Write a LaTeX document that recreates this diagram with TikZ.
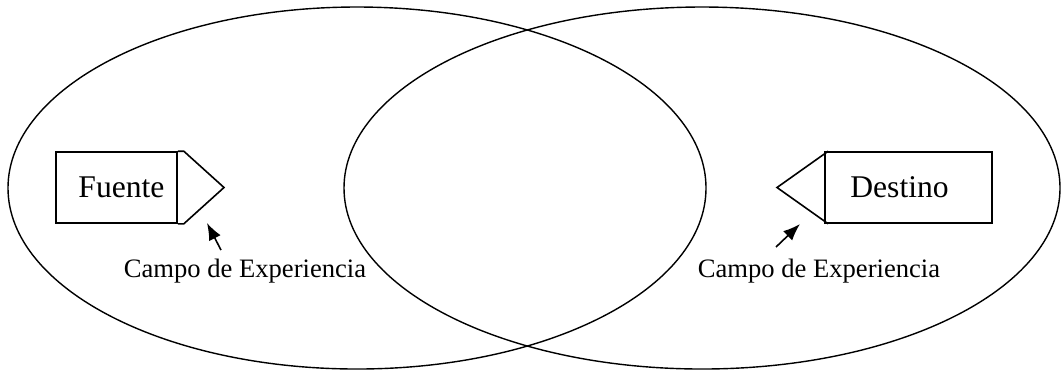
\documentclass[tikz,border=0pt]{standalone}
\usepackage{fontspec}
\setmainfont{Liberation Serif}
\usepackage{tikz}
\usetikzlibrary{arrows.meta,calc}

\tikzset{
  campo/.style={line width=0.7pt},
  caja/.style={draw,line width=0.8pt,minimum width=60.5pt,minimum height=35.5pt,inner sep=0pt,font=\fontsize{15.8}{18}\selectfont},
  punta/.style={line width=0.8pt},
  etiqueta/.style={font=\fontsize{13.3}{16}\selectfont,inner sep=0pt},
  flecha/.style={line width=0.8pt,-{Latex[length=8.5pt,width=6.5pt]}}
}

\begin{document}
\begin{tikzpicture}[x=0.5pt,y=-0.5pt]
\useasboundingbox (0,0) rectangle (1063,372);
% campos de experiencia
\draw[campo] (357,188) ellipse [x radius=349,y radius=181];
\draw[campo] (702,188) ellipse [x radius=358,y radius=181];
% fuente
\node[caja] (fuente) at (116.5,187.5) {\hspace*{5pt}Fuente};
\draw[punta] (fuente.north east) -- ++(6,0) -- (224,187.5) -- ($(fuente.south east)+(6,0)$) -- (fuente.south east);
% destino
\node[caja,minimum width=83.5pt] (destino) at (908.5,187.5) {\hspace*{-9pt}Destino};
\draw[punta] ($(destino.north west)+(4,0)$) -- (777,187.5) -- ($(destino.south west)+(4,0)$);
% etiquetas
\node[etiqueta] (campoA) at (245,271) {Campo de Experiencia};
\node[etiqueta] (campoB) at (819,271) {Campo de Experiencia};
\coordinate (colaA) at (221,250);
\coordinate (colaB) at (776,247);
\draw[flecha] (colaA) -- (207,223);
\draw[flecha] (colaB) -- (800,224);
\end{tikzpicture}
\end{document}
